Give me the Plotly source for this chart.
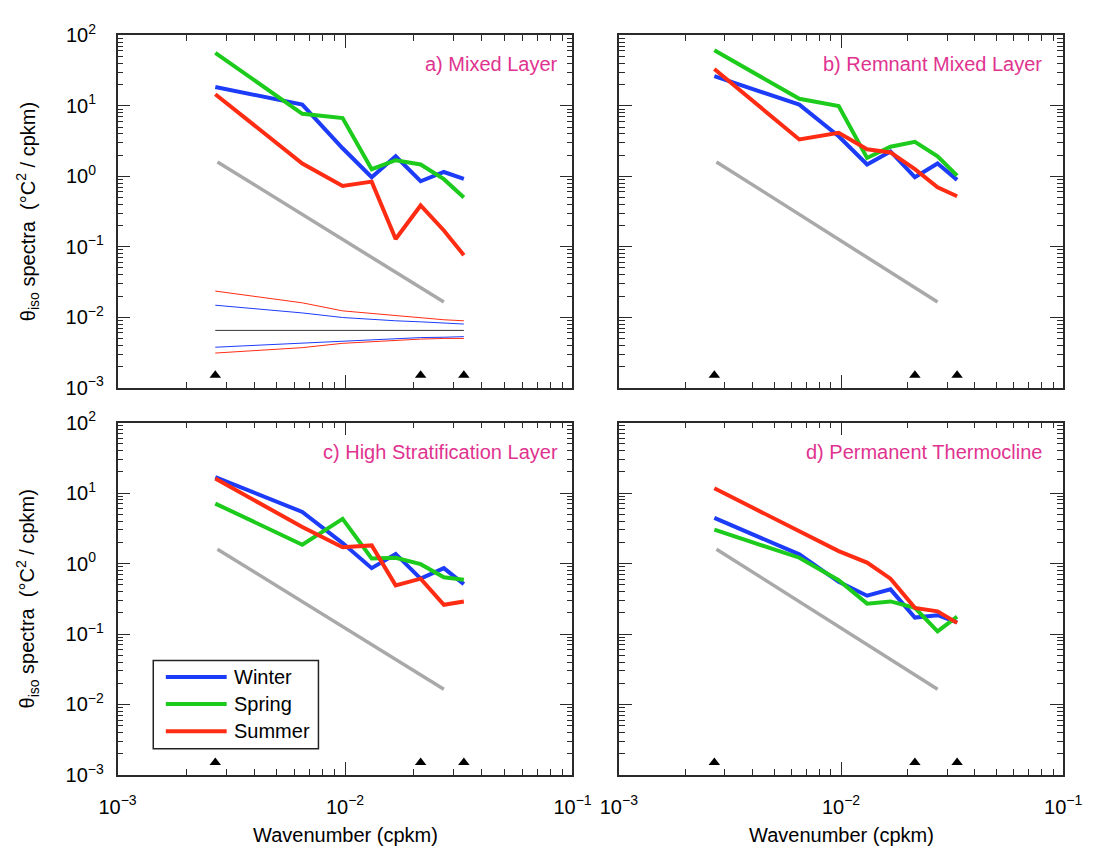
import plotly.graph_objects as go

# Wavenumber bins (cpkm)
wavenumber = [0.00269, 0.00649, 0.00976, 0.0131, 0.0167, 0.0215, 0.0272, 0.0333]

# Isopycnal temperature spectra (degC^2 / cpkm) per layer and season
a_winter = [18.5, 10.4, 2.5, 0.97, 1.92, 0.85, 1.15, 0.92]
a_spring = [56.5, 7.7, 6.7, 1.26, 1.69, 1.47, 0.91, 0.50]
a_summer = [14.6, 1.52, 0.73, 0.84, 0.129, 0.385, 0.17, 0.076]

b_winter = [26.4, 10.4, 3.7, 1.47, 2.25, 0.97, 1.52, 0.89]
b_spring = [61.5, 12.6, 9.9, 1.82, 2.63, 3.08, 1.92, 1.02]
b_summer = [33.3, 3.33, 4.15, 2.42, 2.18, 1.26, 0.70, 0.52]

c_winter = [16.9, 5.4, 1.95, 0.86, 1.37, 0.61, 0.86, 0.51]
c_spring = [7.1, 1.85, 4.3, 1.18, 1.21, 0.98, 0.64, 0.59]
c_summer = [16.1, 3.3, 1.70, 1.81, 0.49, 0.61, 0.26, 0.29]

d_winter = [4.44, 1.35, 0.55, 0.35, 0.43, 0.171, 0.185, 0.146]
d_spring = [3.03, 1.21, 0.58, 0.27, 0.29, 0.235, 0.109, 0.177]
d_summer = [11.7, 2.88, 1.50, 1.03, 0.61, 0.235, 0.21, 0.144]

# Confidence-interval curves shown in the mixed-layer panel
ci_summer_hi = [0.0235, 0.016, 0.0123, 0.0113, 0.0105, 0.0097, 0.0092, 0.0089]
ci_winter_hi = [0.0148, 0.0115, 0.0099, 0.0093, 0.0089, 0.0086, 0.0083, 0.0080]
ci_center = [0.0065, 0.0065, 0.0065, 0.0065, 0.0065, 0.0065, 0.0065, 0.0065]
ci_winter_lo = [0.00375, 0.0043, 0.00463, 0.0048, 0.0050, 0.00514, 0.0052, 0.0053]
ci_summer_lo = [0.0031, 0.0037, 0.00426, 0.0045, 0.0047, 0.00489, 0.0050, 0.0050]

# k^-2 reference slope
ref_k = [0.00275, 0.0272]
ref_s = [1.6, 0.0164]

# Wavenumber markers along the bottom of each panel
mark_k = [0.00269, 0.0215, 0.0333]
mark_s = [0.0015, 0.0015, 0.0015]

panel_titles = ["a) Mixed Layer", "b) Remnant Mixed Layer",
                "c) High Stratification Layer", "d) Permanent Thermocline"]
season_names = ["Winter", "Spring", "Summer"]
y_tick_vals = [1e-3, 1e-2, 1e-1, 1e0, 1e1, 1e2]
y_tick_text = ["10<sup>\u22123</sup>", "10<sup>\u22122</sup>", "10<sup>\u22121</sup>",
               "10<sup>0\u00a0\u00a0</sup>", "10<sup>1\u00a0\u00a0</sup>", "10<sup>2\u00a0\u00a0</sup>"]
x_tick_vals = [1e-3, 1e-2, 1e-1]
x_tick_text = ["10<sup>\u22123</sup>", "10<sup>\u22122</sup>", "10<sup>\u22121</sup>"]

BLUE = "#1c3cf8"
GREEN = "#1ccb1c"
RED = "#ff2c14"
GRAY = "#a9a9a9"
TITLE_C = "#e0338f"
AXC = "#2a2a2a"
FONT = "Liberation Sans, Arial, Helvetica, sans-serif"

W, H = 1116, 850
# panel boxes in pixels: (left, right, top, bottom)
boxes = [(102, 573, 22, 385), (621, 1081, 22, 385),
         (102, 573, 421, 784), (621, 1081, 421, 784)]

panels = [
    (a_winter, a_spring, a_summer),
    (b_winter, b_spring, b_summer),
    (c_winter, c_spring, c_summer),
    (d_winter, d_spring, d_summer),
]
colors = [BLUE, GREEN, RED]

minor_vals = [m * 10.0 ** e for e in range(-3, 2) for m in range(2, 10)]

fig = go.Figure()

for i, series in enumerate(panels):
    n = i + 1
    xa = "x" if n == 1 else f"x{n}"
    ya = "y" if n == 1 else f"y{n}"
    if n == 1:
        for vals, col in [(ci_summer_hi, RED), (ci_winter_hi, BLUE), (ci_center, "#333333"),
                          (ci_winter_lo, BLUE), (ci_summer_lo, RED)]:
            fig.add_trace(go.Scatter(x=wavenumber, y=vals, mode="lines",
                                     line=dict(color=col, width=1),
                                     xaxis=xa, yaxis=ya, showlegend=False))
    fig.add_trace(go.Scatter(x=ref_k, y=ref_s, mode="lines",
                             line=dict(color=GRAY, width=3.5),
                             xaxis=xa, yaxis=ya, showlegend=False))
    for vals, col, name in zip(series, colors, season_names):
        fig.add_trace(go.Scatter(x=wavenumber, y=vals, mode="lines", name=name,
                                 line=dict(color=col, width=4),
                                 xaxis=xa, yaxis=ya, showlegend=False))
    fig.add_trace(go.Scatter(x=mark_k, y=mark_s, mode="markers",
                             marker=dict(symbol="triangle-up", size=10, color="black"),
                             xaxis=xa, yaxis=ya, showlegend=False))

layout = dict(width=W, height=H, margin=dict(l=0, r=0, t=0, b=0),
              paper_bgcolor="white", plot_bgcolor="white",
              font=dict(family=FONT, size=20, color="black"),
              showlegend=False)

for i, (l, r, t, b) in enumerate(boxes):
    n = i + 1
    xkey = "xaxis" if n == 1 else f"xaxis{n}"
    ykey = "yaxis" if n == 1 else f"yaxis{n}"
    yname = "y" if n == 1 else f"y{n}"
    xname = "x" if n == 1 else f"x{n}"
    common = dict(type="log", showline=True, linecolor=AXC, linewidth=1.5,
                  mirror="allticks", ticks="inside", ticklen=13, tickwidth=1.2,
                  tickcolor=AXC, showgrid=False, zeroline=False,
                  tickfont=dict(family=FONT, size=20, color="black"),
                  minor=dict(ticks="inside", ticklen=6, tickwidth=1, tickcolor=AXC,
                             tickmode="array", tickvals=minor_vals, showgrid=False))
    layout[xkey] = dict(common, domain=[l / W, r / W], range=[-3, -1], anchor=yname,
                        tickmode="array", tickvals=x_tick_vals, ticktext=x_tick_text,
                        showticklabels=(n >= 3), ticklabelstandoff=13)
    layout[ykey] = dict(common, domain=[1 - b / H, 1 - t / H], range=[-3, 2], anchor=xname,
                        tickmode="array", tickvals=y_tick_vals, ticktext=y_tick_text,
                        showticklabels=(n % 2 == 1), ticklabelstandoff=8)

fig.update_layout(**layout)

annotations = []
for i, (l, r, t, b) in enumerate(boxes):
    n = i + 1
    xname = "x" if n == 1 else f"x{n}"
    yname = "y" if n == 1 else f"y{n}"
    pad = 13 if n % 2 == 1 else 20
    annotations.append(dict(text=panel_titles[i], xref=f"{xname} domain", yref=f"{yname} domain",
                            x=1 - pad / (r - l), y=1 - 30 / (b - t), xanchor="right",
                            yanchor="middle", showarrow=False,
                            font=dict(family=FONT, size=20, color=TITLE_C)))
    if n % 2 == 1:
        annotations.append(dict(text="\u03b8<sub>iso</sub> spectra \u00a0(\u00b0C<sup>2</sup> / cpkm)",
                                xref="paper", yref="paper", x=9 / W, y=1 - (t + b) / 2 / H,
                                textangle=-90, xanchor="center", yanchor="middle",
                                showarrow=False, font=dict(family=FONT, size=20)))
    if n >= 3:
        annotations.append(dict(text="Wavenumber (cpkm)", xref="paper", yref="paper",
                                x=(l + r) / 2 / W, y=1 - 846 / H, xanchor="center",
                                yanchor="middle", showarrow=False,
                                font=dict(family=FONT, size=20)))

# Season key drawn inside panel c
shapes = [dict(type="rect", xref="paper", yref="paper",
               x0=139 / W, x1=310 / W, y0=1 - 757 / H, y1=1 - 666 / H,
               line=dict(color="#222222", width=1.5), fillcolor="white", layer="above")]
key_rows = [683, 711, 739]
for name, col, yy in zip(season_names, colors, key_rows):
    shapes.append(dict(type="line", xref="paper", yref="paper",
                       x0=152 / W, x1=215 / W, y0=1 - yy / H, y1=1 - yy / H,
                       line=dict(color=col, width=4), layer="above"))
    annotations.append(dict(text=name, xref="paper", yref="paper", x=221 / W, y=1 - yy / H,
                            xanchor="left", yanchor="middle", showarrow=False,
                            font=dict(family=FONT, size=20, color="black")))

fig.update_layout(annotations=annotations, shapes=shapes)

fig.write_html("out.html")
